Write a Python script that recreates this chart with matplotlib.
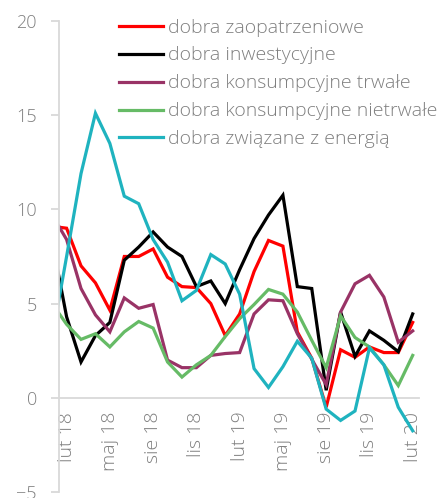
import matplotlib.pyplot as plt
import numpy as np

# miesiace od sty 18 do lut 20 (sty 18 tylko czesciowo widoczny)
months = ['sty 18', 'lut 18', 'mar 18', 'kwi 18', 'maj 18', 'cze 18', 'lip 18', 'sie 18', 'wrz 18',
          'paź 18', 'lis 18', 'gru 18', 'sty 19', 'lut 19', 'mar 19', 'kwi 19', 'maj 19', 'cze 19',
          'lip 19', 'sie 19', 'wrz 19', 'paź 19', 'lis 19', 'gru 19', 'sty 20', 'lut 20']

zaopatrzeniowe = [9.1, 9.0, 7.0, 6.1, 4.65, 7.5, 7.5, 7.9, 6.4, 5.9, 5.85, 5.0, 3.3,
                  4.45, 6.7, 8.35, 8.05, 3.5, 2.1, -0.5, 2.55, 2.15, 2.7, 2.4, 2.4, 4.0]
inwestycyjne = [8.3, 4.3, 1.9, 3.3, 4.0, 7.3, 8.0, 8.8, 8.0, 7.5, 5.9, 6.2, 5.0,
                6.8, 8.45, 9.7, 10.75, 5.9, 5.8, 0.4, 4.55, 2.2, 3.55, 3.05, 2.45, 4.45]
trwale = [9.7, 8.4, 5.8, 4.4, 3.5, 5.3, 4.75, 4.95, 2.0, 1.6, 1.6, 2.25, 2.35,
          2.4, 4.45, 5.2, 5.15, 3.4, 2.05, 0.7, 4.55, 6.05, 6.5, 5.35, 2.95, 3.55]
nietrwale = [5.0, 3.9, 3.1, 3.4, 2.7, 3.5, 4.05, 3.7, 1.9, 1.1, 1.75, 2.25, 3.25,
             4.2, 4.95, 5.75, 5.5, 4.55, 3.05, 1.6, 4.35, 3.2, 2.7, 1.75, 0.65, 2.25]
energia = [3.2, 7.5, 11.9, 15.1, 13.5, 10.7, 10.3, 8.4, 7.2, 5.15, 5.7, 7.6, 7.1,
           5.5, 1.55, 0.55, 1.65, 3.0, 2.1, -0.6, -1.2, -0.7, 2.65, 1.75, -0.5, -1.75]

labels = ['dobra zaopatrzeniowe', 'dobra inwestycyjne', 'dobra konsumpcyjne trwałe',
          'dobra konsumpcyjne nietrwałe', 'dobra związane z energią']
colors = ['#ff0000', '#000000', '#993366', '#66bb66', '#1fb3bf']

plt.rcParams['font.family'] = ['Open Sans', 'DejaVu Sans']
txt = '#7f7f7f'
grid_c = '#d9d9d9'

fig = plt.figure(figsize=(4.38, 4.98), dpi=100)
ax = fig.add_axes([0.1347, 0.012, 0.822, 0.946])

x = np.arange(len(months)) - 1  # lut 18 = 0
for ys, lab, c in zip([zaopatrzeniowe, inwestycyjne, trwale, nietrwale, energia], labels, colors):
    ax.plot(x, ys, color=c, lw=2.3, label=lab, solid_joinstyle='miter')

ax.set_xlim(-0.527, 24.44)
ax.set_ylim(-5, 20)
ax.set_yticks([-5, 0, 5, 10, 15, 20])

tick_pos = list(range(0, 25, 3))
ax.set_xticks(tick_pos)
ax.set_xticklabels([months[i + 1] for i in tick_pos])

for s in ['top', 'right']:
    ax.spines[s].set_visible(False)
ax.spines['left'].set_color(grid_c)
ax.spines['left'].set_linewidth(1.3)
ax.spines['bottom'].set_position(('data', 0))
ax.spines['bottom'].set_color(grid_c)
ax.spines['bottom'].set_linewidth(1.3)
ax.spines['bottom'].set_zorder(0)

ax.tick_params(axis='y', colors=grid_c, labelcolor=txt, labelsize=13, length=6, width=1.3, pad=10)
ax.tick_params(axis='x', length=0, labelcolor=txt, labelsize=14, pad=10, labelrotation=90)
for t in ax.get_xticklabels() + ax.get_yticklabels():
    t.set_fontweight('light')

leg = ax.legend(loc='upper left', bbox_to_anchor=(0.167, 1.005), frameon=False, fontsize=14,
                handlelength=2.27, handletextpad=0.22, labelspacing=0.51, borderaxespad=0,
                borderpad=0)
for t in leg.get_texts():
    t.set_color(txt)
    t.set_fontweight('light')
for l in leg.get_lines():
    l.set_linewidth(2.3)

fig.savefig('out.png', dpi=100)
